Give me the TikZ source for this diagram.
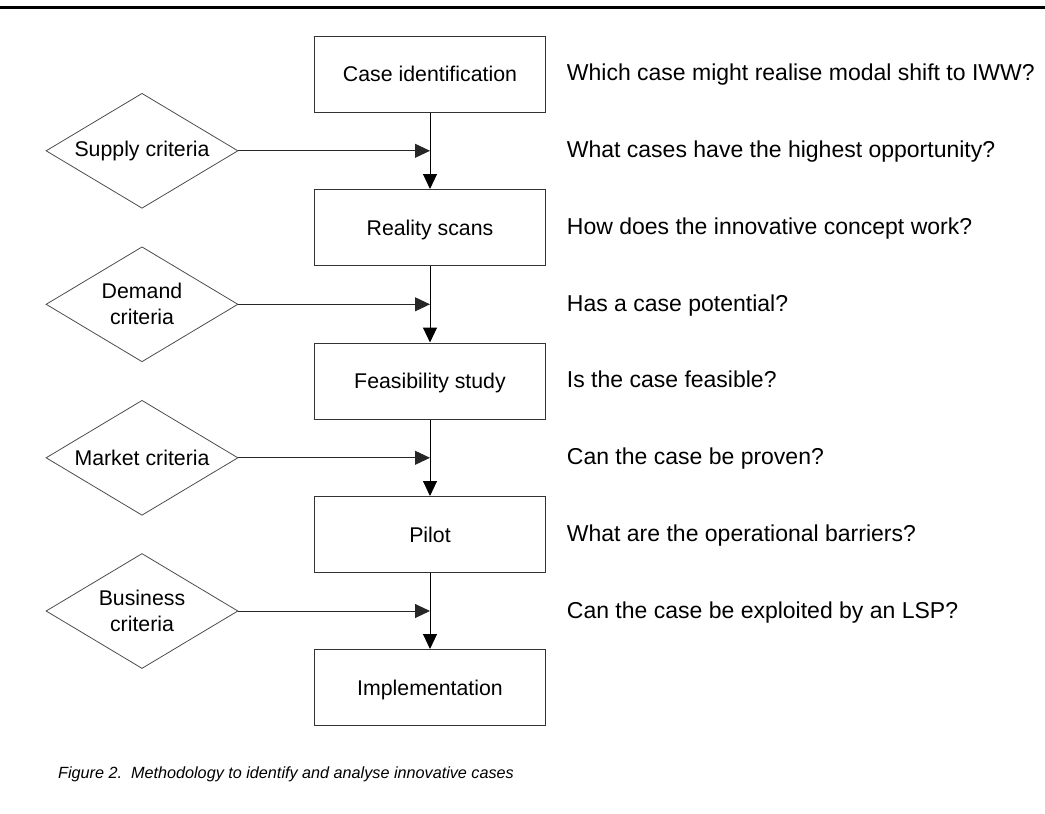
\documentclass[tikz,border=0pt]{standalone}
\usepackage{fontspec}
\setmainfont{Liberation Sans}
\usetikzlibrary{shapes.geometric,arrows.meta}

\begin{document}
\begin{tikzpicture}[x=1pt,y=-1pt,
  font=\fontsize{21.3}{26}\selectfont,
  stage/.style={draw=black!80,line width=1pt,minimum width=231pt,minimum height=76pt,
    inner sep=0pt,text height=15.5pt,text depth=0pt,align=center},
  crit/.style={draw=black!70,line width=0.8pt,shape=diamond,aspect=1.67,
    minimum width=192pt,minimum height=115pt,inner sep=0pt,align=center},
  question/.style={anchor=base west,inner sep=0pt,font=\fontsize{23}{28}\selectfont},
  flow/.style={line width=1pt,-{Triangle[length=15pt,width=14pt]}},
  feed/.style={line width=0.9pt,draw=black!85,-{Triangle[length=15pt,width=14pt]}}]

\useasboundingbox (0,0) rectangle (1045,814);

% heading rule
\fill[black] (0,6) rectangle (1045,9.3);

% process stages
\node[stage] (b1) at (430,74.1)  {Case identification};
\node[stage] (b2) at (430,227.5) {Reality scans};
\node[stage] (b3) at (430,381)   {Feasibility study};
\node[stage] (b4) at (430,534.5) {Pilot};
\node[stage] (b5) at (430,687.5) {Implementation};

% criteria
\node[crit] (d1) at (142,150.8) {Supply criteria};
\node[crit] (d2) at (142,304.3) {Demand\\criteria};
\node[crit] (d3) at (142,457.8) {Market criteria};
\node[crit] (d4) at (142,611)   {Business\\criteria};

% main flow
\draw[flow] (b1.south) -- (b2.north);
\draw[flow] (b2.south) -- (b3.north);
\draw[flow] (b3.south) -- (b4.north);
\draw[flow] (b4.south) -- (b5.north);

% criteria feeding into the flow
\draw[feed] (d1.east) -- (d1.east -| b1.south);
\draw[feed] (d2.east) -- (d2.east -| b2.south);
\draw[feed] (d3.east) -- (d3.east -| b3.south);
\draw[feed] (d4.east) -- (d4.east -| b4.south);

% guiding questions
\node[question] (q1) at (566.7,80.7)  {Which case might realise modal shift to IWW?};
\node[question] (q2) at (566.7,157.5) {What cases have the highest opportunity?};
\node[question] (q3) at (566.7,234.3) {How does the innovative concept work?};
\node[question] (q4) at (566.7,311)   {Has a case potential?};
\node[question] (q5) at (566.7,387.8) {Is the case feasible?};
\node[question] (q6) at (566.7,464.6) {Can the case be proven?};
\node[question] (q7) at (566.7,541.4) {What are the operational barriers?};
\node[question] (q8) at (566.7,618.2) {Can the case be exploited by an LSP?};

% caption
\node[question,font=\fontsize{16.2}{19}\selectfont\itshape] (cap) at (58,778)
  {Figure 2.\ \ Methodology to identify and analyse innovative cases};
\end{tikzpicture}
\end{document}
